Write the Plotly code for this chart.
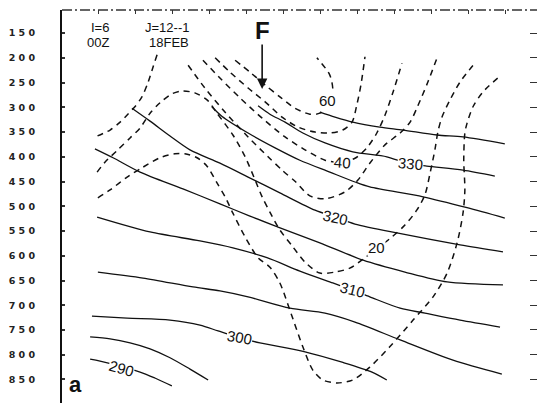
import plotly.graph_objects as go

# ---------------- axis data ----------------
pressure_ticks = [150, 200, 250, 300, 350, 400, 450, 500, 550, 600, 650, 700, 750, 800, 850]
pressure_tick_text = ["1 5 0", "2 0 0", "2 5 0", "3 0 0", "3 5 0", "4 0 0", "4 5 0", "5 0 0",
                      "5 5 0", "6 0 0", "6 5 0", "7 0 0", "7 5 0", "8 0 0", "8 5 0"]
grid_ticks = [1, 2, 3, 4, 5, 6, 7, 8, 9, 10, 11, 12]

# ---------------- potential temperature (solid) ----------------
theta_290_x = [0.76, 1.03, 2.11, 2.51, 2.97]
theta_290_p = [809, 813, 835, 847, 863]

theta_295_x = [0.76, 1.30, 1.84, 2.38, 2.92, 3.46, 3.95]
theta_295_p = [764, 768, 776, 788, 806, 829, 851]

theta_300_x = [0.81, 1.76, 2.92, 3.73, 4.22, 4.81, 5.35, 6.57, 7.57, 8.38, 8.78]
theta_300_p = [722, 726, 730, 740, 752, 766, 776, 794, 815, 835, 851]

theta_305_x = [0.97, 2.19, 3.54, 4.27, 5.03, 6.16, 7.11, 7.92, 9.14, 10.57, 11.89]
theta_305_p = [633, 645, 663, 671, 683, 706, 716, 734, 770, 811, 839]

theta_310_x = [0.95, 2.38, 3.73, 4.62, 5.54, 6.43, 7.32, 7.84, 8.32, 9.14, 9.81, 10.76, 11.84]
theta_310_p = [522, 552, 570, 584, 604, 631, 655, 669, 683, 706, 716, 730, 744]

theta_315_x = [0.89, 1.38, 2.11, 3.27, 4.27, 5.08, 5.84, 6.97, 8.14, 9.27, 10.41, 11.92]
theta_315_p = [384, 402, 431, 465, 495, 520, 542, 574, 609, 633, 653, 659]

theta_320_x = [1.89, 2.38, 2.92, 3.46, 4.27, 5.03, 5.89, 6.84, 7.38, 7.92, 9.05, 10.76, 11.92]
theta_320_p = [302, 328, 358, 386, 413, 441, 473, 508, 522, 536, 554, 578, 592]

theta_325_x = [4.05, 4.32, 5.03, 5.76, 6.43, 7.24, 7.92, 8.32, 9.76, 10.95, 11.97]
theta_325_p = [299, 318, 352, 382, 407, 431, 451, 461, 481, 503, 524]

theta_330_x = [5.30, 5.62, 6.03, 6.51, 7.11, 7.86, 8.78, 9.32, 9.86, 10.84, 11.70]
theta_330_p = [297, 314, 330, 352, 372, 390, 400, 413, 419, 427, 439]

theta_335_x = [6.97, 7.38, 7.86, 8.59, 9.22, 10.14, 10.84, 11.97]
theta_335_p = [310, 320, 330, 340, 346, 356, 360, 374]

# ---------------- wind speed (dashed) ----------------
wind_60_x = [4.68, 5.08, 5.49, 5.89, 6.30, 6.70, 6.97, 7.19, 7.32, 7.24, 6.89]
wind_60_p = [205, 229, 255, 279, 302, 314, 312, 295, 269, 235, 200]

wind_50_x = [4.14, 4.54, 5.03, 5.49, 5.95, 6.38, 6.84, 7.24, 7.59, 7.84, 7.97, 8.08, 8.19]
wind_50_p = [200, 229, 261, 289, 320, 340, 350, 352, 346, 330, 295, 255, 198]

wind_40_x = [3.81, 4.27, 4.81, 5.41, 6.03, 6.57, 7.11, 7.51, 7.92, 8.24, 8.51, 8.73, 8.95, 9.19]
wind_40_p = [205, 241, 281, 322, 360, 386, 407, 411, 403, 382, 352, 316, 269, 211]

wind_30_x = [3.41, 3.86, 4.41, 5.03, 5.57, 5.95, 6.32, 6.70, 7.11, 7.65, 8.00, 8.32, 8.73, 9.14,
             9.41, 9.62, 9.89, 10.14]
wind_30_p = [215, 261, 310, 360, 400, 427, 451, 479, 485, 471, 447, 413, 376, 352,
             330, 297, 249, 200]

wind_20_x = [0.95, 1.16, 1.51, 1.84, 2.11, 2.38, 2.65, 2.97, 3.24, 3.59, 3.92, 4.19, 4.62, 4.95,
             5.22, 5.41, 5.62, 5.89, 6.22, 6.57, 6.97, 7.38, 7.78, 8.19, 8.54, 8.92, 9.27, 9.59,
             9.81, 9.95, 10.08, 10.16, 10.27, 10.49, 10.76, 11.16]
wind_20_p = [431, 411, 386, 362, 342, 312, 291, 273, 267, 271, 285, 312, 356, 400,
             447, 481, 512, 548, 580, 613, 635, 633, 625, 604, 584, 562, 538, 508,
             477, 433, 386, 350, 320, 285, 249, 211]

wind_10_x = [0.97, 1.30, 1.76, 2.19, 2.65, 3.05, 3.32, 3.65, 3.92, 4.19, 4.41, 4.62, 4.95, 5.30,
             5.62, 5.89, 6.16, 6.51, 6.78, 7.05, 7.43, 7.86, 8.32, 8.86, 9.49, 10.03, 10.41,
             10.68, 10.84, 10.89, 10.86, 10.89, 10.95, 11.11, 11.38, 11.78]
wind_10_p = [483, 467, 441, 421, 402, 394, 394, 402, 419, 453, 481, 514, 562, 604,
             623, 655, 710, 784, 831, 851, 857, 851, 825, 784, 730, 683, 635,
             574, 514, 467, 407, 352, 332, 299, 269, 241]

wind_nw_x = [2.57, 2.46, 2.32, 2.16, 1.97, 1.78, 1.57, 1.30, 0.89]
wind_nw_p = [194, 219, 251, 279, 299, 314, 330, 346, 360]

# ---------------- contour labels ----------------
label_text = ["290", "300", "310", "320", "330", "20", "40", "60"]
label_x = [1.62, 4.81, 7.84, 7.38, 9.41, 8.51, 7.59, 7.19]
label_p = [827, 766, 669, 522, 413, 584, 411, 287]
label_angle = [16, 10, 14, 12, 5, 0, 4, 0]

solid_curves = [
    (theta_290_x, theta_290_p), (theta_295_x, theta_295_p), (theta_300_x, theta_300_p),
    (theta_305_x, theta_305_p), (theta_310_x, theta_310_p), (theta_315_x, theta_315_p),
    (theta_320_x, theta_320_p), (theta_325_x, theta_325_p), (theta_330_x, theta_330_p),
    (theta_335_x, theta_335_p),
]
dashed_curves = [
    (wind_60_x, wind_60_p), (wind_50_x, wind_50_p), (wind_40_x, wind_40_p),
    (wind_30_x, wind_30_p), (wind_20_x, wind_20_p), (wind_10_x, wind_10_p),
    (wind_nw_x, wind_nw_p),
]

fig = go.Figure()
for xs, ps in dashed_curves:
    fig.add_trace(go.Scatter(x=xs, y=ps, mode="lines",
                             line=dict(color="#111", width=1.5, dash="6px,5px",
                                       shape="spline", smoothing=0.8),
                             hoverinfo="skip"))
for xs, ps in solid_curves:
    fig.add_trace(go.Scatter(x=xs, y=ps, mode="lines",
                             line=dict(color="#111", width=1.3, shape="spline", smoothing=0.8),
                             hoverinfo="skip"))

# invisible trace on the right-hand axis to carry its ticks
fig.add_trace(go.Scatter(x=[0], y=[500], yaxis="y2", mode="markers",
                         marker=dict(opacity=0), hoverinfo="skip"))

for t, x, p, a in zip(label_text, label_x, label_p, label_angle):
    fig.add_annotation(x=x, y=p, text=t, showarrow=False, textangle=a,
                       font=dict(family="Liberation Sans", size=15, color="#111"),
                       bgcolor="white", borderpad=0)

# header text
hdr_font = dict(family="Liberation Sans", size=13, color="#111")
fig.add_annotation(x=1.03, y=138, text="I=6", showarrow=False, font=hdr_font)
fig.add_annotation(x=0.97, y=170, text="00Z", showarrow=False, font=hdr_font)
fig.add_annotation(x=2.84, y=138, text="J=12--1", showarrow=False, font=hdr_font)
fig.add_annotation(x=2.89, y=170, text="18FEB", showarrow=False, font=hdr_font)

# front marker
fig.add_annotation(x=5.41, y=144, text="<b>F</b>", showarrow=False,
                   font=dict(family="Liberation Sans", size=24, color="#111"))
fig.add_annotation(x=5.41, y=263, ax=5.41, ay=170, axref="x", ayref="y", text="",
                   showarrow=True, arrowhead=2, arrowsize=1.3, arrowwidth=1.6,
                   arrowcolor="#111")

# panel letter
fig.add_annotation(x=0.36, y=860, text="<b>a</b>", showarrow=False,
                   font=dict(family="Liberation Sans", size=22, color="#111"))

# dash-dot top border
fig.add_shape(type="line", xref="paper", yref="paper", x0=0, x1=1, y0=1, y1=1,
              line=dict(color="#333", width=1.3, dash="10px,3px,2px,3px"))

fig.update_layout(
    width=538, height=403,
    margin=dict(l=62, r=1, t=10, b=0),
    paper_bgcolor="white", plot_bgcolor="white",
    showlegend=False,
    xaxis=dict(range=[0, 12.84], side="top", tickvals=grid_ticks, ticks="inside",
               ticklen=4, tickcolor="#333", showticklabels=False, showgrid=False,
               zeroline=False, showline=False, automargin=False),
    yaxis=dict(range=[897.5, 103.5], tickvals=pressure_ticks, ticktext=pressure_tick_text,
               ticks="inside", ticklen=3, tickcolor="#333", tickwidth=1.5,
               showline=True, linecolor="#111", linewidth=2, automargin=False,
               showgrid=False, zeroline=False, ticklabelstandoff=23,
               tickfont=dict(family="DejaVu Sans", size=9.5, color="#222", weight="bold")),
    yaxis2=dict(range=[897.5, 103.5], overlaying="y", side="right", tickvals=pressure_ticks,
                ticks="inside", ticklen=7, tickcolor="#333", tickwidth=1.3, automargin=False,
                showticklabels=False, showgrid=False, zeroline=False, showline=False),
)

fig.write_html("out.html", config={"displayModeBar": False},
               post_script="document.body.style.margin='0';")
